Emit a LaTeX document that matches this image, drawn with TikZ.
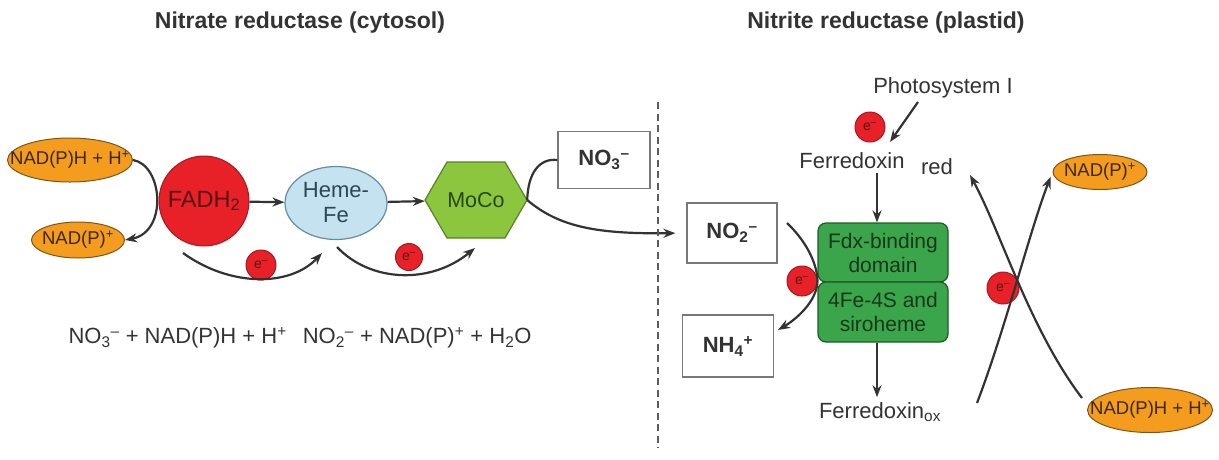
\documentclass[tikz,border=0pt]{standalone}
\usepackage{fontspec}
\setmainfont{Liberation Sans}
\usetikzlibrary{shapes.geometric,positioning,arrows.meta}

\definecolor{nadfill}{RGB}{243,156,30}
\definecolor{nadline}{RGB}{125,85,25}
\definecolor{nadtext}{RGB}{60,40,15}
\definecolor{fadfill}{RGB}{232,32,40}
\definecolor{fadline}{RGB}{165,25,30}
\definecolor{fadtext}{RGB}{85,20,20}
\definecolor{hemefill}{RGB}{196,226,240}
\definecolor{hemeline}{RGB}{100,140,165}
\definecolor{hemetext}{RGB}{45,70,85}
\definecolor{mocofill}{RGB}{140,198,63}
\definecolor{mocoline}{RGB}{85,130,40}
\definecolor{mocotext}{RGB}{40,70,25}
\definecolor{fdxfill}{RGB}{58,165,74}
\definecolor{fdxline}{RGB}{30,90,40}
\definecolor{fdxtext}{RGB}{25,55,25}
\definecolor{boxline}{RGB}{120,120,120}
\definecolor{ink}{RGB}{51,51,51}

% label that does not widen its ellipse
\newcommand{\nadlabel}[1]{\makebox[0pt]{#1}}

\begin{document}
\begin{tikzpicture}[x=1pt,y=-1pt,
  conn/.style={draw=ink, line width=2.2pt},
  arr/.style={conn, -{Stealth[length=12pt,width=9pt]}},
  nad/.style={ellipse, draw=nadline, line width=1pt, fill=nadfill, inner sep=0pt,
    text=nadtext, font=\fontsize{18.5}{18.5}\selectfont},
  elec/.style={circle, draw=fadline, line width=1pt, fill=fadfill, inner sep=0pt,
    minimum size=30pt, text=fadtext, font=\fontsize{14}{14}\selectfont},
  chem/.style={draw=boxline, line width=1.2pt, fill=white, text=ink,
    font=\fontsize{22}{22}\selectfont\bfseries},
  fdx/.style={rectangle, rounded corners=8pt, draw=fdxline, line width=1.2pt,
    fill=fdxfill, text=fdxtext, align=center, minimum width=130pt,
    font=\fontsize{21}{24}\selectfont},
  lbl/.style={text=ink, inner sep=0pt, font=\fontsize{22}{22}\selectfont},
  title/.style={text=ink, inner sep=0pt, font=\fontsize{23}{23}\selectfont\bfseries}
]
  \useasboundingbox (0,0) rectangle (1219,459);

  % Titles
  \node[title] (tl) at (300,23) {Nitrate reductase (cytosol)};
  \node[title] (tr) at (886,23) {Nitrite reductase (plastid)};

  % Nitrate reductase chain
  \node[nad, minimum width=125pt, minimum height=44pt] (nadhL) at (70,160) {\nadlabel{NAD(P)H + H\textsuperscript{+}}};
  \node[nad, minimum width=93pt, minimum height=36pt] (nadL) at (78,240) {\nadlabel{NAD(P)\textsuperscript{+}}};
  \node[circle, draw=fadline, line width=1pt, fill=fadfill, minimum size=90pt, inner sep=0pt,
    text=fadtext, font=\fontsize{23.5}{23.5}\selectfont] (fad) at (204,201) {FADH\textsubscript{2}};
  \node[ellipse, draw=hemeline, line width=1.2pt, fill=hemefill, minimum width=102pt,
    minimum height=73pt, inner sep=0pt, align=center, text=hemetext,
    font=\fontsize{22}{25}\selectfont] (heme) at (336,203) {Heme-\\Fe};
  \draw[fill=mocofill, draw=mocoline, line width=1.2pt]
    (425,200) -- (447,162) -- (505,162) -- (527,200) -- (505,238) -- (447,238) -- cycle;
  \node[minimum width=102pt, minimum height=76pt, inner sep=0pt, text=mocotext,
    font=\fontsize{21.5}{21.5}\selectfont] (moco) at (476,200) {MoCo};

  % Electrons
  \node[elec] (e1) at (261,265) {e\textsuperscript{–}};
  \node[elec, minimum size=27pt] (e2) at (409,257) {e\textsuperscript{–}};

  % Substrate boxes
  \node[chem, minimum width=92pt, minimum height=57pt] (no3) at (604,160) {NO\textsubscript{3}\textsuperscript{–}};
  \node[chem, minimum width=90pt, minimum height=60pt] (no2) at (732,233) {NO\textsubscript{2}\textsuperscript{–}};
  \node[chem, minimum width=91pt, minimum height=62pt] (nh4) at (728,346) {NH\textsubscript{4}\textsuperscript{+}};

  % Overall reaction
  \node[lbl] (eqn) at (300,338) {NO\textsubscript{3}\textsuperscript{–} + NAD(P)H + H\textsuperscript{+}\hspace{16pt}NO\textsubscript{2}\textsuperscript{–} + NAD(P)\textsuperscript{+} + H\textsubscript{2}O};

  % Left connectors
  \coordinate (c1s) at (183,253);
  \coordinate (c1e) at (322,253);
  \coordinate (c2s) at (337,247);
  \coordinate (c2e) at (475,248);
  \draw[arr] (nadhL.east) .. controls (163,165) and (168,232) .. (nadL.east);
  \draw[arr] (fad) -- (heme);
  \draw[arr] (heme) -- (moco);
  \draw[arr] (c1s) .. controls (230,287) and (290,287) .. (c1e);
  \draw[arr] (c2s) .. controls (370,282) and (430,285) .. (c2e);
  \draw[conn] (moco.east) .. controls (528,172) and (540,158) .. (no3.west);
  \draw[arr, shorten >=11pt] (moco.east) .. controls (560,228) and (600,234) .. (no2.west);

  % Compartment border
  \draw[draw=ink!80, line width=2pt, dash pattern=on 7pt off 4.5pt] (658,102) -- (658,448);

  % Nitrite reductase
  \node[lbl] (psI) at (943,88) {Photosystem I};
  \node[elec] (e3) at (870,127) {e\textsuperscript{–}};
  \node[lbl] (fdred) at (852,161) {Ferredoxin};
  \node[lbl] (redlbl) at (937,167) {red};
  \node[fdx, minimum height=59pt] (fdxb) at (883,252.5) {Fdx-binding\\domain};
  \node[fdx, minimum height=60pt] (fesb) at (883,312) {4Fe-4S and\\siroheme};
  \node[lbl] (fdox) at (880,412) {Ferredoxin\textsubscript{ox}};
  \node[elec] (e4) at (802,281) {e\textsuperscript{–}};
  \node[elec, minimum size=32pt] (e5) at (1003,288) {e\textsuperscript{–}};
  \node[nad, minimum width=94pt, minimum height=35pt] (nadR) at (1100,172) {\nadlabel{NAD(P)\textsuperscript{+}}};
  \node[nad, minimum width=125pt, minimum height=45pt] (nadhR) at (1150,410) {\nadlabel{NAD(P)H + H\textsuperscript{+}}};

  % Right connectors
  \coordinate (psa) at (918,102);
  \coordinate (psb) at (890,142);
  \coordinate (ax) at (877,0);
  \coordinate (n2s) at (787,223);
  \coordinate (n4e) at (778,330);
  \coordinate (xa) at (1082,398);
  \coordinate (xb) at (970,175);
  \coordinate (xc) at (977,403);
  \draw[arr] (psa) -- (psb);
  \draw[arr, shorten <=4pt] (fdred.south -| ax) -- (fdxb.north -| ax);
  \draw[arr, shorten >=5pt] (fesb.south -| ax) -- (fdox.north -| ax);
  \draw[arr] (n2s) .. controls (805,240) and (817,262) .. (e4.east)
    .. controls (817,302) and (795,320) .. (n4e);
  \draw[arr] (xa) .. controls (1030,330) and (1000,230) .. (xb);
  \draw[arr, shorten >=5pt] (xc) .. controls (1005,330) and (1030,230) .. (nadR.west);
\end{tikzpicture}
\end{document}
